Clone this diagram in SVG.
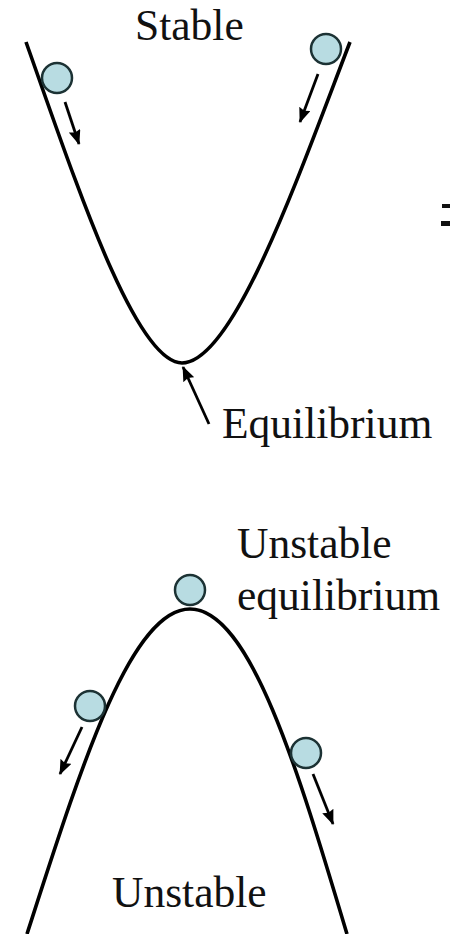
<svg xmlns="http://www.w3.org/2000/svg" width="450" height="934" viewBox="0 0 450 934">
<style>
.curve{fill:none;stroke:#000;stroke-width:3.6;stroke-linecap:butt}
.ball{fill:#b8dce2;stroke:#1c3234;stroke-width:2.5}
.arr{fill:none;stroke:#000;stroke-width:2.8}
.lbl{font-family:"Liberation Serif","Times New Roman",serif;font-size:43.5px;fill:#111}
</style>
<defs>
<marker id="ah" viewBox="0 0 15 12" refX="14" refY="6" markerWidth="15" markerHeight="12" markerUnits="userSpaceOnUse" orient="auto">
<path d="M0,0 L15,6 L0,12 L2,6 Z" fill="#000"/>
</marker>
</defs>
<rect width="450" height="934" fill="#fff"/>
<g id="connectors">
<path class="curve" d="M26,42 C75,180 135,363 182,363 C233,363 297,180 350,42"/>
<path class="curve" d="M27,934 C80,770 130,609 190,609 C250,609 298,770 347,934"/>
<line class="arr" x1="65" y1="102" x2="79" y2="144" marker-end="url(#ah)"/>
<line class="arr" x1="318" y1="74" x2="300" y2="122" marker-end="url(#ah)"/>
<line class="arr" x1="209" y1="424" x2="183" y2="367" marker-end="url(#ah)"/>
<line class="arr" x1="82" y1="727" x2="60" y2="774" marker-end="url(#ah)"/>
<line class="arr" x1="313" y1="774" x2="333" y2="824" marker-end="url(#ah)"/>
</g>
<g id="ball-stable-left"><circle class="ball" cx="57" cy="78" r="15"/></g>
<g id="ball-stable-right"><circle class="ball" cx="326" cy="49" r="15"/></g>
<g id="ball-unstable-top"><circle class="ball" cx="190" cy="590" r="15"/></g>
<g id="ball-unstable-left"><circle class="ball" cx="90" cy="706" r="15"/></g>
<g id="ball-unstable-right"><circle class="ball" cx="306" cy="753" r="15"/></g>
<g id="label-stable"><text class="lbl" x="135" y="40">Stable</text></g>
<g id="label-equilibrium"><text class="lbl" x="222" y="438">Equilibrium</text></g>
<g id="label-unstable-eq"><text class="lbl" x="237" y="558">Unstable</text><text class="lbl" x="237" y="610">equilibrium</text></g>
<g id="label-unstable"><text class="lbl" x="112" y="907">Unstable</text></g>
<g id="edge-fragment"><rect x="442" y="204" width="8" height="4" fill="#111"/><rect x="441" y="221" width="9" height="5" fill="#111"/></g>
</svg>
